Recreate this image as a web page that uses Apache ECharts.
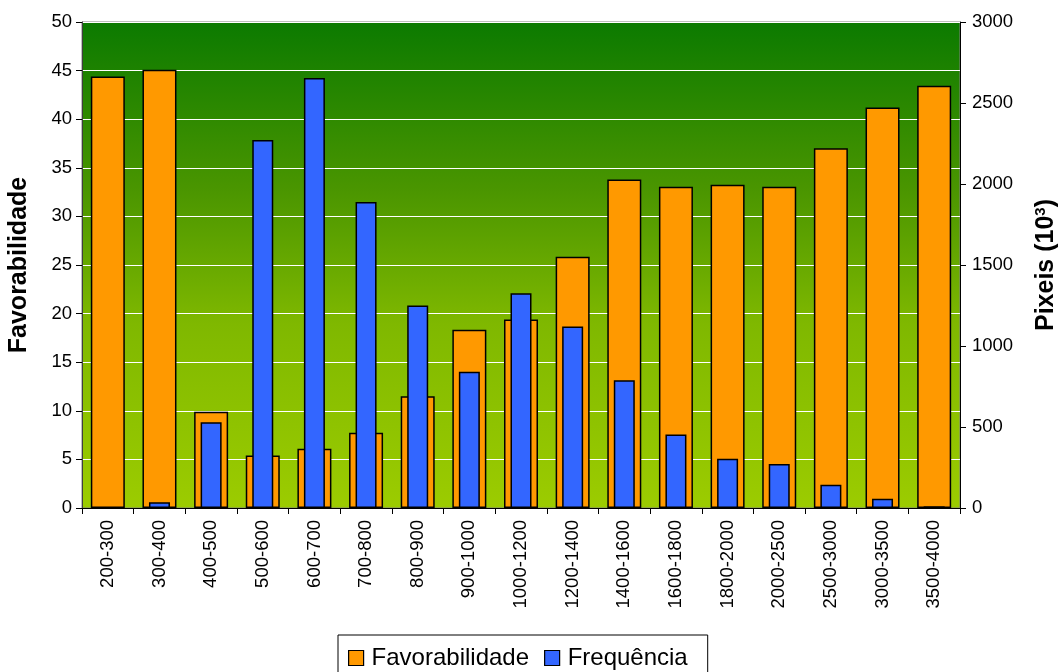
<!DOCTYPE html>
<html>
<head>
<meta charset="utf-8">
<script src="https://cdn.jsdelivr.net/npm/echarts@6/dist/echarts.min.js"></script>
<style>
html,body{margin:0;padding:0;background:#fff;}
#chart{width:1059px;height:672px;}
</style>
</head>
<body>
<div id="chart"></div>
<script>
const categories = ['200-300','300-400','400-500','500-600','600-700','700-800','800-900','900-1000','1000-1200','1200-1400','1400-1600','1600-1800','1800-2000','2000-2500','2500-3000','3000-3500','3500-4000'];
const favorabilidade = [44.4, 45.1, 9.9, 5.4, 6.1, 7.75, 11.5, 18.35, 19.4, 25.85, 33.8, 33.05, 33.25, 33.05, 37.0, 41.2, 43.45];
const frequencia = [0, 35, 529, 2271, 2654, 1889, 1250, 841, 1325, 1121, 788, 453, 304, 271, 144, 57, 10];
const leftTicks = {min: 0, max: 50, interval: 5};
const rightTicks = {min: 0, max: 3000, interval: 500};

const font = '"Liberation Sans", Arial, sans-serif';
const chart = echarts.init(document.getElementById('chart'), null, {renderer: 'canvas'});
chart.setOption({
  animation: false,
  textStyle: {fontFamily: font, color: '#000'},
  grid: {
    left: 82, right: 99, top: 22, bottom: 164,
    containLabel: false,
    outerBoundsMode: 'none',
    show: true,
    borderColor: '#808080', borderWidth: 1,
    backgroundColor: {
      type: 'linear', x: 0, y: 0, x2: 0, y2: 1,
      colorStops: [
        {offset: 0, color: '#0b7a00'},
        {offset: 0.35, color: '#4b9600'},
        {offset: 0.62, color: '#7fb800'},
        {offset: 1, color: '#9ccc00'}
      ]
    }
  },
  legend: {
    data: ['Favorabilidade', 'Frequência'],
    left: 338, top: 635,
    padding: [10, 20, 10, 10],
    borderColor: '#000', borderWidth: 1,
    itemWidth: 15, itemHeight: 15, itemGap: 15,
    icon: 'rect',
    itemStyle: {borderColor: '#000', borderWidth: 1.2},
    textStyle: {fontFamily: font, fontSize: 24, color: '#000', padding: [0, 0, 0, 3], lineHeight: 26}
  },
  xAxis: [
    {
      type: 'category', data: categories, gridIndex: 0,
      axisLine: {lineStyle: {color: '#000', width: 1}},
      axisTick: {show: true, length: 6, lineStyle: {color: '#000'}},
      axisLabel: {rotate: 90, fontSize: 18.5, color: '#000', margin: 12, fontFamily: font, interval: 0}
    },
    {
      type: 'category', data: categories, gridIndex: 0, show: false
    }
  ],
  yAxis: [
    {
      type: 'value', min: leftTicks.min, max: leftTicks.max, interval: leftTicks.interval,
      name: 'Favorabilidade', nameLocation: 'middle', nameGap: 50, nameRotate: 90,
      nameTextStyle: {fontFamily: font, fontSize: 25, fontWeight: 'bold', color: '#000'},
      axisLine: {show: true, lineStyle: {color: '#404040', width: 1}},
      axisTick: {show: true, length: 6, lineStyle: {color: '#000'}},
      axisLabel: {fontSize: 18.5, color: '#000', margin: 10, fontFamily: font},
      splitLine: {show: true, lineStyle: {color: '#ffffff', width: 1}}
    },
    {
      type: 'value', min: rightTicks.min, max: rightTicks.max, interval: rightTicks.interval,
      position: 'right',
      name: 'Pixeis (10{sup|3})', nameLocation: 'middle', nameGap: 73, nameRotate: 90,
      nameTextStyle: {
        fontFamily: font, fontSize: 25, fontWeight: 'bold', color: '#000',
        rich: {sup: {fontFamily: font, fontSize: 15, fontWeight: 'bold', color: '#000', verticalAlign: 'top', padding: [0, 0, 12, 0]}}
      },
      axisLine: {show: true, lineStyle: {color: '#000', width: 1}},
      axisTick: {show: true, length: 6, lineStyle: {color: '#000'}},
      axisLabel: {fontSize: 18.5, color: '#000', margin: 12, fontFamily: font, formatter: function (v) { return String(v); }},
      splitLine: {show: false}
    }
  ],
  series: [
    {
      name: 'Favorabilidade', type: 'bar', xAxisIndex: 0, yAxisIndex: 0,
      data: favorabilidade, barWidth: 34,
      itemStyle: {color: '#ff9900', borderColor: '#000', borderWidth: 1.5}
    },
    {
      name: 'Frequência', type: 'bar', xAxisIndex: 1, yAxisIndex: 1,
      data: frequencia, barWidth: 21,
      itemStyle: {color: '#3366ff', borderColor: '#000', borderWidth: 1.5}
    }
  ]
});
</script>
</body>
</html>
